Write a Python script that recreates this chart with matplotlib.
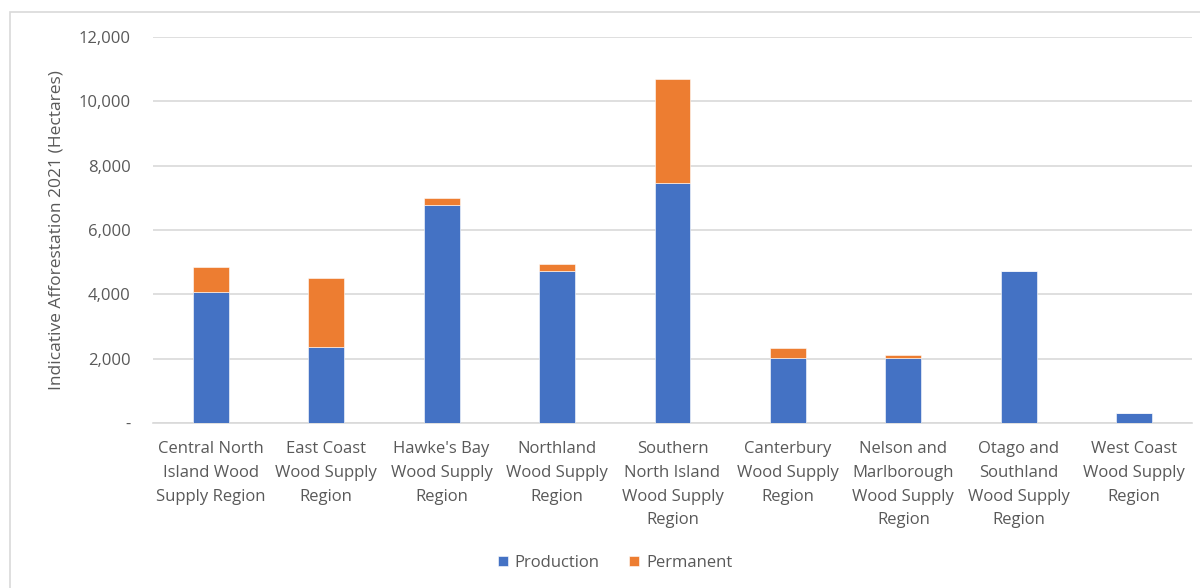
import numpy as np
import matplotlib
matplotlib.use("Agg")
import matplotlib.pyplot as plt
from matplotlib.patches import Rectangle
from matplotlib.ticker import FuncFormatter

plt.rcParams["font.family"] = ["Open Sans", "DejaVu Sans"]

REGIONS = [
    "Central North\nIsland Wood\nSupply Region",
    "East Coast\nWood Supply\nRegion",
    "Hawke's Bay\nWood Supply\nRegion",
    "Northland\nWood Supply\nRegion",
    "Southern\nNorth Island\nWood Supply\nRegion",
    "Canterbury\nWood Supply\nRegion",
    "Nelson and\nMarlborough\nWood Supply\nRegion",
    "Otago and\nSouthland\nWood Supply\nRegion",
    "West Coast\nWood Supply\nRegion",
]
PRODUCTION = [4070, 2370, 6780, 4735, 7460, 2010, 2010, 4735, 310]
PERMANENT = [770, 2150, 200, 200, 3220, 310, 95, 0, 0]

BLUE = "#4472C4"
ORANGE = "#ED7D31"
GREY = "#595959"

fig = plt.figure(figsize=(12, 5.88), dpi=100)
ax = fig.add_axes([153 / 1200, 1 - 423 / 588, (1192 - 153) / 1200, (423 - 37) / 588])

# light chart-area frame
fig.patches.append(Rectangle((10 / 1200, -0.1), 1.2, 1 - 12 / 588 + 0.1,
                             transform=fig.transFigure, fill=False,
                             edgecolor="#D9D9D9", lw=1.2, zorder=0))

x = np.arange(len(REGIONS))
w = 0.31
ax.bar(x, PRODUCTION, w, color=BLUE, label="Production", zorder=3,
       edgecolor="white", linewidth=0.4)
ax.bar(x, PERMANENT, w, bottom=PRODUCTION, color=ORANGE, label="Permanent",
       zorder=3, edgecolor="white", linewidth=0.4)

ax.set_xlim(-0.5, len(REGIONS) - 0.5)
ax.set_ylim(0, 12000)
ax.set_yticks(range(0, 12001, 2000))
ax.yaxis.set_major_formatter(FuncFormatter(lambda v, p: "-" if v == 0 else f"{v:,.0f}"))
ax.grid(axis="y", color="#D9D9D9", lw=1.2, zorder=0)
for s in ["top", "right", "left"]:
    ax.spines[s].set_visible(False)
ax.spines["bottom"].set_color("#D9D9D9")
ax.spines["bottom"].set_linewidth(1.2)
ax.tick_params(axis="both", length=0, colors=GREY, labelsize=12)
ax.tick_params(axis="y", pad=16)
ax.tick_params(axis="x", pad=13)
ax.set_xticks(x)
ax.set_xticklabels(REGIONS, linespacing=1.65)

ax.set_ylabel("Indicative Afforestation 2021 (Hectares)", color=GREY, fontsize=12.5,
              labelpad=10)

leg = fig.legend(loc="center", bbox_to_anchor=(615 / 1200, 1 - 563 / 588), ncol=2,
                 frameon=False, fontsize=12, handlelength=0.6, handleheight=0.6,
                 columnspacing=1.8, handletextpad=0.4)
for t in leg.get_texts():
    t.set_color(GREY)

fig.savefig("out.png", dpi=100)
